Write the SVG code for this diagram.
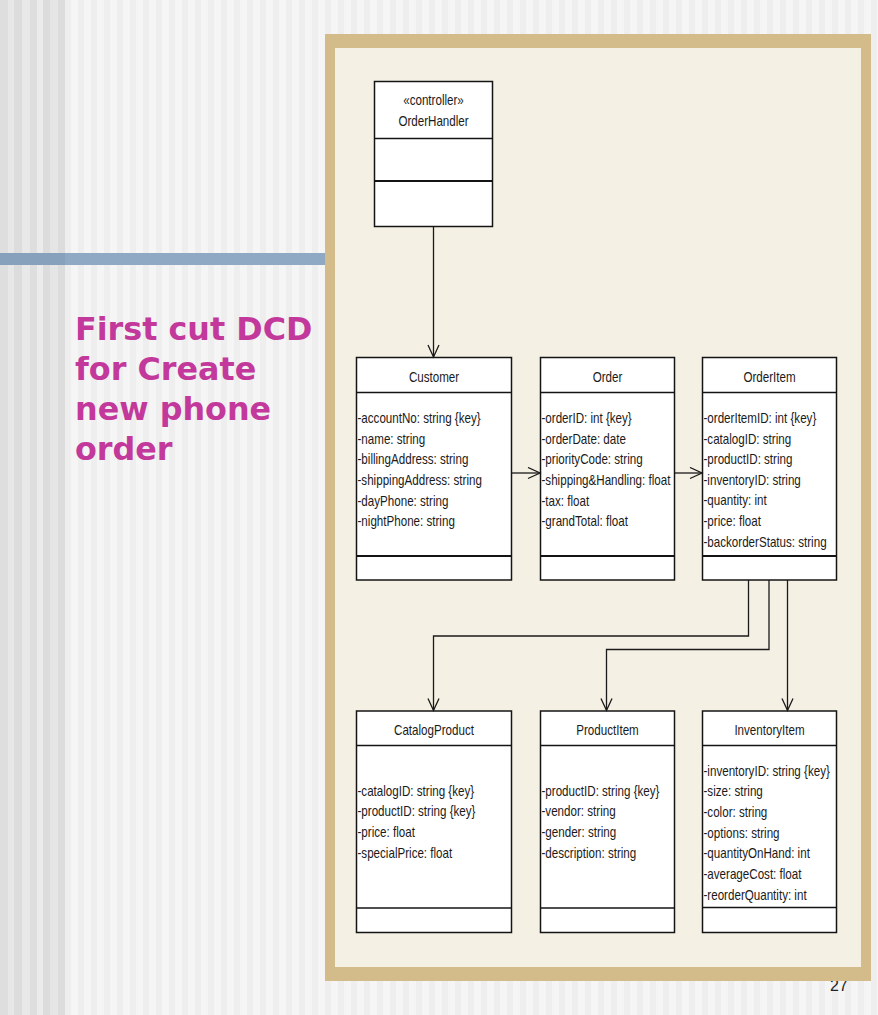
<svg xmlns="http://www.w3.org/2000/svg" width="878" height="1015" viewBox="0 0 878 1015">
<defs>
<pattern id="stripes" x="0" y="0" width="13" height="10" patternUnits="userSpaceOnUse">
<rect x="0" y="0" width="13" height="10" fill="#f5f5f5"/>
<rect x="0" y="0" width="6" height="10" fill="#eeeeee"/>
</pattern>
<marker id="arr" markerUnits="userSpaceOnUse" markerWidth="16" markerHeight="14" refX="13" refY="6" orient="auto" viewBox="0 0 16 14">
<path d="M1,0.5 L13,6 L1,11.5" fill="none" stroke="#1a1a1a" stroke-width="1.3"/>
</marker>
<style>
.box{fill:#ffffff;stroke:#141414;stroke-width:1.5}
.sep{stroke:#141414;stroke-width:1.5}
.thick{stroke:#141414;stroke-width:2.2}
.t{font-family:"Liberation Sans",Arial,sans-serif;font-size:14.5px;fill:#1a1a1a}
.c{text-anchor:middle}
.con{fill:none;stroke:#1a1a1a;stroke-width:1.3;marker-end:url(#arr)}
.title{font-family:"DejaVu Sans",Verdana,sans-serif;font-weight:bold;font-size:31.8px;fill:#c3399b}
</style>
</defs>
<rect x="0" y="0" width="878" height="1015" fill="url(#stripes)"/>
<rect x="0" y="0" width="8" height="1015" fill="#dedede"/>
<rect x="8" y="0" width="6" height="1015" fill="#e7e7e7"/>
<rect x="14" y="0" width="8" height="1015" fill="#dcdcdc"/>
<rect x="22" y="0" width="8" height="1015" fill="#e8e8e8"/>
<rect x="30" y="0" width="7" height="1015" fill="#dedede"/>
<rect x="37" y="0" width="6" height="1015" fill="#ebebeb"/>
<rect x="43" y="0" width="7" height="1015" fill="#dcdcdc"/>
<rect x="50" y="0" width="8" height="1015" fill="#e5e5e5"/>
<rect x="58" y="0" width="7" height="1015" fill="#dcdcdc"/>
<rect x="0" y="253" width="325" height="12" fill="#8fa9c4"/>
<rect x="0" y="253" width="65" height="12" fill="#87a1bd"/>
<text class="title" x="75" y="340">First cut DCD</text>
<text class="title" x="75" y="380">for Create</text>
<text class="title" x="75" y="420">new phone</text>
<text class="title" x="75" y="460">order</text>
<text x="830" y="991" font-family="Liberation Sans, sans-serif" font-size="16" fill="#222">27</text>
<rect x="325" y="34" width="546" height="947" fill="#d3bc8a"/>
<rect x="335" y="48" width="526" height="919" fill="#f5f0e4"/>

<g id="OrderHandler">
<rect class="box" x="374.5" y="81.5" width="118" height="145"/>
<line class="sep" x1="374.5" y1="138.5" x2="492.5" y2="138.5"/>
<line class="thick" x1="374.5" y1="181" x2="492.5" y2="181"/>
<text class="t c" transform="matrix(0.8 0 0 1 433.5 0)" y="105">«controller»</text>
<text class="t c" transform="matrix(0.8 0 0 1 433.5 0)" y="126">OrderHandler</text>
</g>

<g id="Customer">
<rect class="box" x="356.5" y="357.5" width="155" height="222.5"/>
<line class="sep" x1="356.5" y1="392.5" x2="511.5" y2="392.5"/>
<line class="thick" x1="356.5" y1="556" x2="511.5" y2="556"/>
<text class="t c" transform="matrix(0.8 0 0 1 434 0)" y="382">Customer</text>
<text class="t" transform="matrix(0.8 0 0 1 357.5 0)" y="423">-accountNo: string {key}</text>
<text class="t" transform="matrix(0.8 0 0 1 357.5 0)" y="443.7">-name: string</text>
<text class="t" transform="matrix(0.8 0 0 1 357.5 0)" y="464.4">-billingAddress: string</text>
<text class="t" transform="matrix(0.8 0 0 1 357.5 0)" y="485.1">-shippingAddress: string</text>
<text class="t" transform="matrix(0.8 0 0 1 357.5 0)" y="505.8">-dayPhone: string</text>
<text class="t" transform="matrix(0.8 0 0 1 357.5 0)" y="526.5">-nightPhone: string</text>
</g>

<g id="Order">
<rect class="box" x="540.5" y="357.5" width="134" height="222.5"/>
<line class="sep" x1="540.5" y1="392.5" x2="674.5" y2="392.5"/>
<line class="thick" x1="540.5" y1="556" x2="674.5" y2="556"/>
<text class="t c" transform="matrix(0.8 0 0 1 607.5 0)" y="382">Order</text>
<text class="t" transform="matrix(0.8 0 0 1 541.5 0)" y="423">-orderID: int {key}</text>
<text class="t" transform="matrix(0.8 0 0 1 541.5 0)" y="443.7">-orderDate: date</text>
<text class="t" transform="matrix(0.8 0 0 1 541.5 0)" y="464.4">-priorityCode: string</text>
<text class="t" transform="matrix(0.8 0 0 1 541.5 0)" y="485.1">-shipping&amp;Handling: float</text>
<text class="t" transform="matrix(0.8 0 0 1 541.5 0)" y="505.8">-tax: float</text>
<text class="t" transform="matrix(0.8 0 0 1 541.5 0)" y="526.5">-grandTotal: float</text>
</g>

<g id="OrderItem">
<rect class="box" x="702.5" y="357.5" width="134" height="222.5"/>
<line class="sep" x1="702.5" y1="392.5" x2="836.5" y2="392.5"/>
<line class="thick" x1="702.5" y1="556" x2="836.5" y2="556"/>
<text class="t c" transform="matrix(0.8 0 0 1 769.5 0)" y="382">OrderItem</text>
<text class="t" transform="matrix(0.8 0 0 1 703.5 0)" y="423">-orderItemID: int {key}</text>
<text class="t" transform="matrix(0.8 0 0 1 703.5 0)" y="443.6">-catalogID: string</text>
<text class="t" transform="matrix(0.8 0 0 1 703.5 0)" y="464.2">-productID: string</text>
<text class="t" transform="matrix(0.8 0 0 1 703.5 0)" y="484.8">-inventoryID: string</text>
<text class="t" transform="matrix(0.8 0 0 1 703.5 0)" y="505.4">-quantity: int</text>
<text class="t" transform="matrix(0.8 0 0 1 703.5 0)" y="526">-price: float</text>
<text class="t" transform="matrix(0.8 0 0 1 703.5 0)" y="546.6">-backorderStatus: string</text>
</g>

<g id="CatalogProduct">
<rect class="box" x="356.5" y="711" width="155" height="221.5"/>
<line class="sep" x1="356.5" y1="745.5" x2="511.5" y2="745.5"/>
<line class="sep" x1="356.5" y1="908" x2="511.5" y2="908"/>
<text class="t c" transform="matrix(0.8 0 0 1 434 0)" y="735">CatalogProduct</text>
<text class="t" transform="matrix(0.8 0 0 1 357.5 0)" y="795.7">-catalogID: string {key}</text>
<text class="t" transform="matrix(0.8 0 0 1 357.5 0)" y="816.4">-productID: string {key}</text>
<text class="t" transform="matrix(0.8 0 0 1 357.5 0)" y="837.1">-price: float</text>
<text class="t" transform="matrix(0.8 0 0 1 357.5 0)" y="857.8">-specialPrice: float</text>
</g>

<g id="ProductItem">
<rect class="box" x="540.5" y="711" width="134" height="221.5"/>
<line class="sep" x1="540.5" y1="745.5" x2="674.5" y2="745.5"/>
<line class="sep" x1="540.5" y1="908" x2="674.5" y2="908"/>
<text class="t c" transform="matrix(0.8 0 0 1 607.5 0)" y="735">ProductItem</text>
<text class="t" transform="matrix(0.8 0 0 1 541.5 0)" y="795.7">-productID: string {key}</text>
<text class="t" transform="matrix(0.8 0 0 1 541.5 0)" y="816.4">-vendor: string</text>
<text class="t" transform="matrix(0.8 0 0 1 541.5 0)" y="837.1">-gender: string</text>
<text class="t" transform="matrix(0.8 0 0 1 541.5 0)" y="857.8">-description: string</text>
</g>

<g id="InventoryItem">
<rect class="box" x="702.5" y="711" width="134" height="221.5"/>
<line class="sep" x1="702.5" y1="745.5" x2="836.5" y2="745.5"/>
<line class="sep" x1="702.5" y1="907.5" x2="836.5" y2="907.5"/>
<text class="t c" transform="matrix(0.8 0 0 1 769.5 0)" y="735">InventoryItem</text>
<text class="t" transform="matrix(0.8 0 0 1 703.5 0)" y="775.7">-inventoryID: string {key}</text>
<text class="t" transform="matrix(0.8 0 0 1 703.5 0)" y="796.4">-size: string</text>
<text class="t" transform="matrix(0.8 0 0 1 703.5 0)" y="817.1">-color: string</text>
<text class="t" transform="matrix(0.8 0 0 1 703.5 0)" y="837.8">-options: string</text>
<text class="t" transform="matrix(0.8 0 0 1 703.5 0)" y="858.5">-quantityOnHand: int</text>
<text class="t" transform="matrix(0.8 0 0 1 703.5 0)" y="879.2">-averageCost: float</text>
<text class="t" transform="matrix(0.8 0 0 1 703.5 0)" y="899.9">-reorderQuantity: int</text>
</g>

<g id="connectors">
<path class="con" d="M433.5,227 V357"/>
<path class="con" d="M512,473 H540"/>
<path class="con" d="M675,473 H702"/>
<path class="con" d="M748.5,580 V636 H433.5 V710.5"/>
<path class="con" d="M769,580 V649.5 H606.5 V710.5"/>
<path class="con" d="M787.5,580 V710.5"/>
</g>
</svg>
